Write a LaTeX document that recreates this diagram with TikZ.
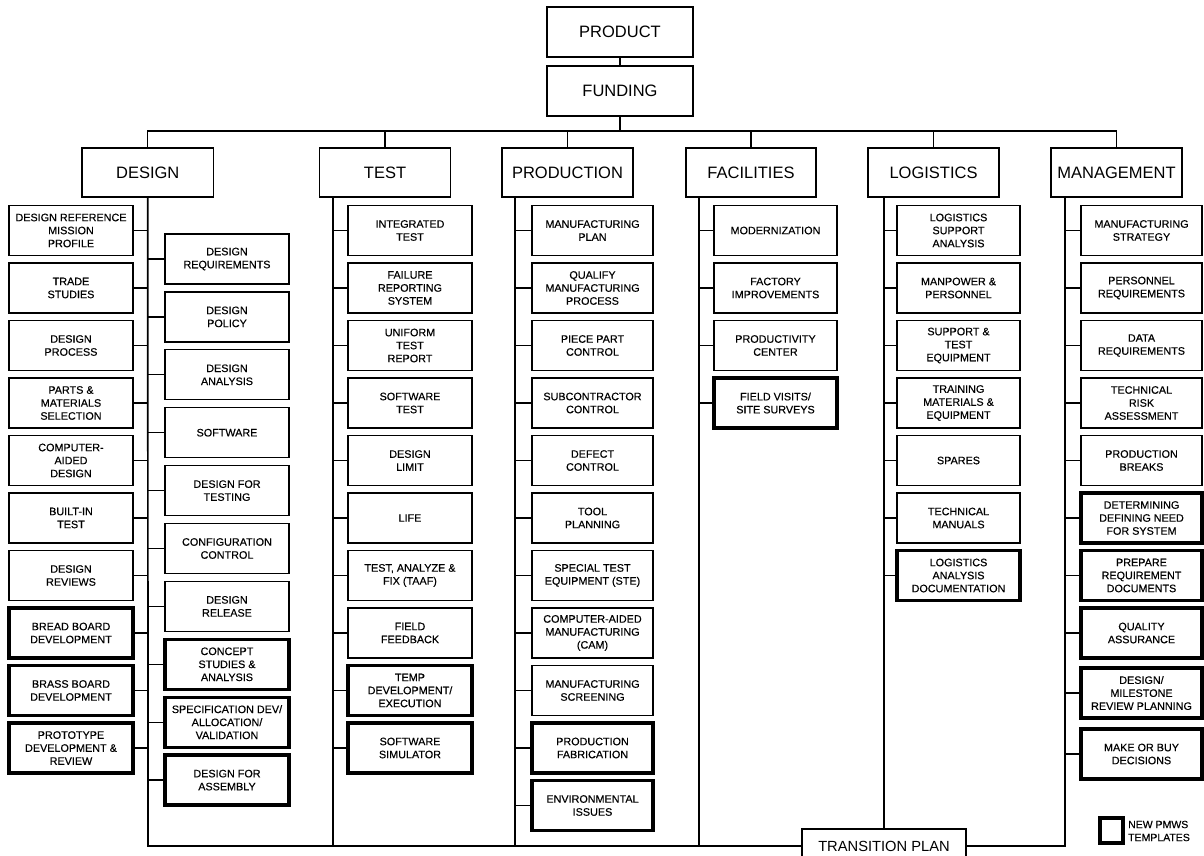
\documentclass[tikz,border=0pt]{standalone}
\usepackage{fontspec}
\setmainfont{Liberation Sans}
\newfontfamily\boxfont[FakeBold=0.35]{Liberation Sans}
\begin{document}
\begin{tikzpicture}[x=1pt,y=-1pt,
  box/.style={draw, line width=1.2pt, minimum height=50pt, inner sep=1pt, align=center, font=\boxfont\fontsize{10.8}{13}\selectfont},
  nbox/.style={box, line width=3.3pt},
  cat/.style={draw, line width=1.3pt, minimum height=49pt, inner sep=1pt, font=\fontsize{16.5}{19}\selectfont},
  ln/.style={line width=1.3pt},
  sp/.style={line width=1.7pt},
  wdl/.style={minimum width=124pt},
  wt/.style={minimum width=124pt},
  wp/.style={minimum width=121pt},
  wf/.style={minimum width=123pt},
  wl/.style={minimum width=123pt},
  wm/.style={minimum width=121pt}]
\useasboundingbox (0,0) rectangle (1204,856);
\clip (0,0) rectangle (1204,856);
\fill[white] (0,0) rectangle (1204,856);

% top
\node[cat, minimum width=146pt, minimum height=50pt] (product) at (620,32) {PRODUCT};
\node[cat, minimum width=146pt, minimum height=50pt] (funding) at (620,91) {FUNDING};
\coordinate (bus) at (620,131);
\draw[ln] (product) -- (funding);
\draw[ln] (funding.south) -- (bus);

% categories
\node[cat, minimum width=131.5pt] (design) at (147.75,172.5) {DESIGN};
\node[cat, minimum width=130.5pt] (test) at (385,172.5) {TEST};
\node[cat, minimum width=131pt] (production) at (567.5,172.5) {PRODUCTION};
\node[cat, minimum width=130pt] (facilities) at (751,172.5) {FACILITIES};
\node[cat, minimum width=131pt] (logistics) at (933.5,172.5) {LOGISTICS};
\node[cat, minimum width=131pt] (management) at (1116.5,172.5) {MANAGEMENT};
\draw[ln] (design.north) -- (design.north |- bus) -- (management.north |- bus) -- (management.north);
\foreach \n in {test,production,facilities,logistics}
  \draw[ln] (\n.north) -- (\n.north |- bus);

% transition plan
\node[draw, line width=1.3pt, minimum width=164pt, minimum height=34pt, inner sep=1pt, font=\fontsize{14.7}{17}\selectfont] (tp) at (884,846) {TRANSITION PLAN};

% spines
\coordinate (bl) at (148,846);
\coordinate (tsp) at (333,197);
\coordinate (psp) at (515,197);
\coordinate (fsp) at (699,197);
\coordinate (lsp) at (884,197);
\coordinate (msp) at (1065,197);
\draw[sp] (design.south) -- (bl) -- (tp.west);
\draw[sp] (tsp) -- (tsp |- bl);
\draw[sp] (psp) -- (psp |- bl);
\draw[sp] (fsp) -- (fsp |- bl);
\draw[sp] (lsp) -- (tp.north);
\draw[sp] (msp) -- (msp |- tp.east) -- (tp.east);

% DESIGN left column
\node[box,wdl] (dl0) at (71,{230.5+57.5*0}) {DESIGN REFERENCE\\MISSION\\PROFILE};
\node[box,wdl] (dl1) at (71,{230.5+57.5*1}) {TRADE\\STUDIES};
\node[box,wdl] (dl2) at (71,{230.5+57.5*2}) {DESIGN\\PROCESS};
\node[box,wdl] (dl3) at (71,{230.5+57.5*3}) {PARTS \&\\MATERIALS\\SELECTION};
\node[box,wdl] (dl4) at (71,{230.5+57.5*4}) {COMPUTER-\\AIDED\\DESIGN};
\node[box,wdl] (dl5) at (71,{230.5+57.5*5}) {BUILT-IN\\TEST};
\node[box,wdl] (dl6) at (71,{230.5+57.5*6}) {DESIGN\\REVIEWS};
\node[nbox,wdl] (dl7) at (71,{230.5+57.5*7}) {BREAD BOARD\\DEVELOPMENT};
\node[nbox,wdl] (dl8) at (71,{230.5+57.5*8}) {BRASS BOARD\\DEVELOPMENT};
\node[nbox,wdl] (dl9) at (71,{230.5+57.5*9}) {PROTOTYPE\\DEVELOPMENT \&\\REVIEW};
\foreach \i in {0,...,9} \draw[ln] (dl\i.east) -- (dl\i.east -| design.south);

% DESIGN right column
\node[box,wdl] (dr0) at (227,{259+57.9*0}) {DESIGN\\REQUIREMENTS};
\node[box,wdl] (dr1) at (227,{259+57.9*1}) {DESIGN\\POLICY};
\node[box,wdl] (dr2) at (227,{259+57.9*2}) {DESIGN\\ANALYSIS};
\node[box,wdl] (dr3) at (227,{259+57.9*3}) {SOFTWARE};
\node[box,wdl] (dr4) at (227,{259+57.9*4}) {DESIGN FOR\\TESTING};
\node[box,wdl] (dr5) at (227,{259+57.9*5}) {CONFIGURATION\\CONTROL};
\node[box,wdl] (dr6) at (227,{259+57.9*6}) {DESIGN\\RELEASE};
\node[nbox,wdl] (dr7) at (227,{259+57.9*7}) {CONCEPT\\STUDIES \&\\ANALYSIS};
\node[nbox,wdl] (dr8) at (227,{259+57.9*8}) {SPECIFICATION DEV/\\ALLOCATION/\\VALIDATION};
\node[nbox,wdl] (dr9) at (227,{259+57.9*9}) {DESIGN FOR\\ASSEMBLY};
\foreach \i in {0,...,9} \draw[ln] (dr\i.west) -- (dr\i.west -| design.south);

% TEST column
\node[box,wt] (t0) at (410,{230.5+57.5*0}) {INTEGRATED\\TEST};
\node[box,wt] (t1) at (410,{230.5+57.5*1}) {FAILURE\\REPORTING\\SYSTEM};
\node[box,wt] (t2) at (410,{230.5+57.5*2}) {UNIFORM\\TEST\\REPORT};
\node[box,wt] (t3) at (410,{230.5+57.5*3}) {SOFTWARE\\TEST};
\node[box,wt] (t4) at (410,{230.5+57.5*4}) {DESIGN\\LIMIT};
\node[box,wt] (t5) at (410,{230.5+57.5*5}) {LIFE};
\node[box,wt] (t6) at (410,{230.5+57.5*6}) {TEST, ANALYZE \&\\FIX (TAAF)};
\node[box,wt] (t7) at (410,{230.5+57.5*7}) {FIELD\\FEEDBACK};
\node[nbox,wt] (t8) at (410,{230.5+57.5*8}) {TEMP\\DEVELOPMENT/\\EXECUTION};
\node[nbox,wt] (t9) at (410,{230.5+57.5*9}) {SOFTWARE\\SIMULATOR};
\foreach \i in {0,...,9} \draw[ln] (t\i.west) -- (t\i.west -| tsp);

% PRODUCTION column
\node[box,wp] (p0) at (592.5,{230.5+57.5*0}) {MANUFACTURING\\PLAN};
\node[box,wp] (p1) at (592.5,{230.5+57.5*1}) {QUALIFY\\MANUFACTURING\\PROCESS};
\node[box,wp] (p2) at (592.5,{230.5+57.5*2}) {PIECE PART\\CONTROL};
\node[box,wp] (p3) at (592.5,{230.5+57.5*3}) {SUBCONTRACTOR\\CONTROL};
\node[box,wp] (p4) at (592.5,{230.5+57.5*4}) {DEFECT\\CONTROL};
\node[box,wp] (p5) at (592.5,{230.5+57.5*5}) {TOOL\\PLANNING};
\node[box,wp] (p6) at (592.5,{230.5+57.5*6}) {SPECIAL TEST\\EQUIPMENT (STE)};
\node[box,wp] (p7) at (592.5,{230.5+57.5*7}) {COMPUTER-AIDED\\MANUFACTURING\\(CAM)};
\node[box,wp] (p8) at (592.5,{230.5+57.5*8}) {MANUFACTURING\\SCREENING};
\node[nbox,wp] (p9) at (592.5,{230.5+57.5*9}) {PRODUCTION\\FABRICATION};
\node[nbox,wp] (p10) at (592.5,{230.5+57.5*10}) {ENVIRONMENTAL\\ISSUES};
\foreach \i in {0,...,10} \draw[ln] (p\i.west) -- (p\i.west -| psp);

% FACILITIES column
\node[box,wf] (f0) at (775.5,{230.5+57.5*0}) {MODERNIZATION};
\node[box,wf] (f1) at (775.5,{230.5+57.5*1}) {FACTORY\\IMPROVEMENTS};
\node[box,wf] (f2) at (775.5,{230.5+57.5*2}) {PRODUCTIVITY\\CENTER};
\node[nbox,wf] (f3) at (775.5,{230.5+57.5*3}) {FIELD VISITS/\\SITE SURVEYS};
\foreach \i in {0,...,3} \draw[ln] (f\i.west) -- (f\i.west -| fsp);

% LOGISTICS column
\node[box,wl] (l0) at (958.5,{230.5+57.5*0}) {LOGISTICS\\SUPPORT\\ANALYSIS};
\node[box,wl] (l1) at (958.5,{230.5+57.5*1}) {MANPOWER \&\\PERSONNEL};
\node[box,wl] (l2) at (958.5,{230.5+57.5*2}) {SUPPORT \&\\TEST\\EQUIPMENT};
\node[box,wl] (l3) at (958.5,{230.5+57.5*3}) {TRAINING\\MATERIALS \&\\EQUIPMENT};
\node[box,wl] (l4) at (958.5,{230.5+57.5*4}) {SPARES};
\node[box,wl] (l5) at (958.5,{230.5+57.5*5}) {TECHNICAL\\MANUALS};
\node[nbox,wl] (l6) at (958.5,{230.5+57.5*6}) {LOGISTICS\\ANALYSIS\\DOCUMENTATION};
\foreach \i in {0,...,6} \draw[ln] (l\i.west) -- (l\i.west -| lsp);

% MANAGEMENT column
\node[box,wm] (m0) at (1141.5,{230.5+57.5*0}) {MANUFACTURING\\STRATEGY};
\node[box,wm] (m1) at (1141.5,{230.5+57.5*1}) {PERSONNEL\\REQUIREMENTS};
\node[box,wm] (m2) at (1141.5,{230.5+57.5*2}) {DATA\\REQUIREMENTS};
\node[box,wm] (m3) at (1141.5,{230.5+57.5*3}) {TECHNICAL\\RISK\\ASSESSMENT};
\node[box,wm] (m4) at (1141.5,{230.5+57.5*4}) {PRODUCTION\\BREAKS};
\node[nbox,wm] (m5) at (1141.5,{230.5+57.5*5}) {DETERMINING\\DEFINING NEED\\FOR SYSTEM};
\node[nbox,wm] (m6) at (1141.5,{230.5+57.5*6}) {PREPARE\\REQUIREMENT\\DOCUMENTS};
\node[nbox,wm] (m7) at (1141.5,{230.5+57.5*7}) {QUALITY\\ASSURANCE};
\node[nbox,wm] (m8) at (1141.5,693) {DESIGN/\\MILESTONE\\REVIEW PLANNING};
\node[nbox,wm] (m9) at (1141.5,754) {MAKE OR BUY\\DECISIONS};
\foreach \i in {0,...,9} \draw[ln] (m\i.west) -- (m\i.west -| msp);

% legend
\node[draw, line width=3.3pt, minimum width=23pt, minimum height=25pt, inner sep=0pt] (leg) at (1111.5,830.5) {};
\node[anchor=west, align=left, inner sep=0pt, font=\boxfont\fontsize{10.5}{13}\selectfont] (legt) at (1128,831) {NEW PMWS\\TEMPLATES};
\end{tikzpicture}
\end{document}
